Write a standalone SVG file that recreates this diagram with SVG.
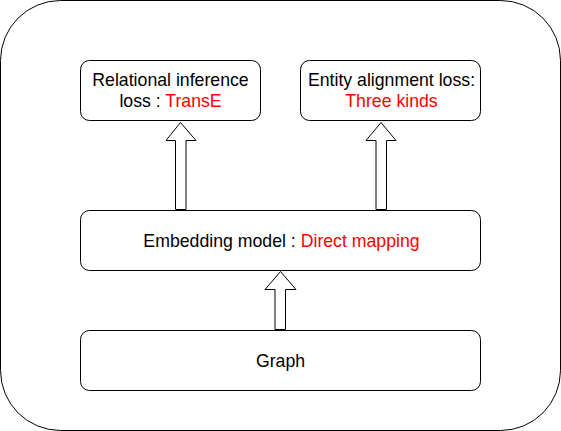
<svg xmlns="http://www.w3.org/2000/svg" width="561" height="431" viewBox="0 0 561 431">
<style>
.box{fill:#fff;stroke:#000;stroke-width:1}
.arrow{fill:#fff;stroke:#000;stroke-width:1;stroke-linejoin:miter}
text{font-family:"Liberation Sans",Arial,sans-serif;font-size:17.7px;fill:#000;text-anchor:middle}
.red{fill:#ff0000}
</style>
<rect x="0.5" y="0.5" width="560" height="430" rx="60" ry="60" fill="#fff" stroke="#000"/>
<g id="connectors">
<path class="arrow" d="M175.5,209.5 L175.5,140.5 L166,140.5 L180.5,122.5 L196,140.5 L186,140.5 L186,209.5 Z"/>
<path class="arrow" d="M376,209.5 L376,140.5 L366,140.5 L381,122.5 L396,140.5 L386.5,140.5 L386.5,209.5 Z"/>
<path class="arrow" d="M275,329.5 L275,289.5 L265,289.5 L280.5,271.5 L296,289.5 L285.5,289.5 L285.5,329.5 Z"/>
</g>
<g id="relational">
<rect class="box" x="80.5" y="60.5" width="180" height="60" rx="9"/>
<text x="170.5" y="86">Relational inference</text>
<text x="170.5" y="107">loss : <tspan class="red">TransE</tspan></text>
</g>
<g id="entity">
<rect class="box" x="300.5" y="60.5" width="180" height="60" rx="9"/>
<text x="391.5" y="86">Entity alignment loss:</text>
<text x="391.5" y="107" class="red">Three kinds</text>
</g>
<g id="embedding">
<rect class="box" x="80.5" y="210.5" width="400" height="60" rx="9"/>
<text x="281.5" y="246.5" xml:space="preserve">Embedding model : <tspan class="red">Direct mapping</tspan></text>
</g>
<g id="graph">
<rect class="box" x="80.5" y="330.5" width="400" height="60" rx="9"/>
<text x="280.5" y="366.5">Graph</text>
</g>
</svg>
